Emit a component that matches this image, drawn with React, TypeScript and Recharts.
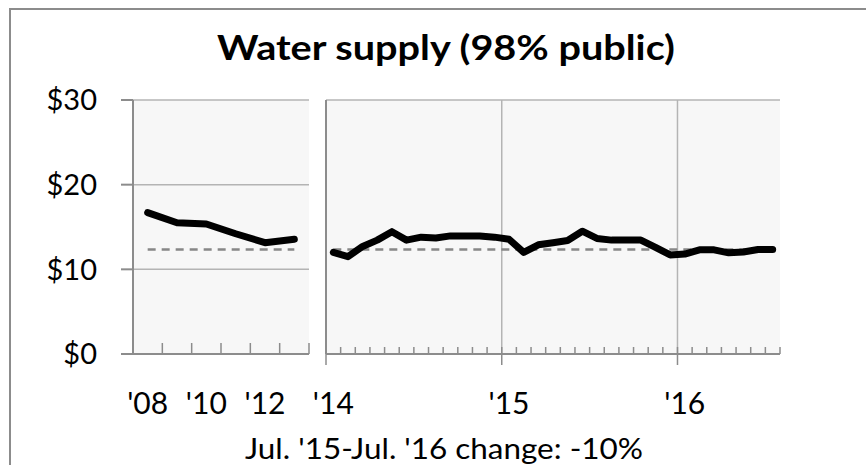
import React from 'react';
import { ComposedChart, Line, XAxis, YAxis, CartesianGrid, ReferenceLine } from 'recharts';

const FONT = 'Lato, "Open Sans", sans-serif';
const AXIS = '#8c8c8c';
const GRID = '#b4b4b4';
const PLOT_BG = '#f7f7f7';
const DASH = '#878787';

// annual panel
const YEARS = ["'08", "'09", "'10", "'11", "'12", "'13"];
const ANNUAL_VALUES = [16.7, 15.5, 15.35, 14.2, 13.15, 13.55];
const ANNUAL_LABELS = ["'08", "'10", "'12"];

// monthly panel, Jan '14 - Jul '16
const MONTHS = [
  "Jan '14", "Feb '14", "Mar '14", "Apr '14", "May '14", "Jun '14", "Jul '14", "Aug '14", "Sep '14", "Oct '14", "Nov '14", "Dec '14",
  "Jan '15", "Feb '15", "Mar '15", "Apr '15", "May '15", "Jun '15", "Jul '15", "Aug '15", "Sep '15", "Oct '15", "Nov '15", "Dec '15",
  "Jan '16", "Feb '16", "Mar '16", "Apr '16", "May '16", "Jun '16", "Jul '16",
];
const MONTHLY_VALUES = [
  12.0, 11.5, 12.7, 13.45, 14.45, 13.45, 13.8, 13.7, 13.95, 13.95, 13.95, 13.8,
  13.55, 12.0, 12.9, 13.15, 13.4, 14.5, 13.65, 13.45, 13.45, 13.45, 12.6, 11.7,
  11.8, 12.3, 12.3, 11.95, 12.05, 12.35, 12.35,
];
const YEAR_STARTS = ["Jan '14", "Jan '15", "Jan '16"];
const MONTH_LABELS: Record<string, string> = { "Jan '14": "'14", "Jan '15": "'15", "Jan '16": "'16" };

const Y_TICKS = [0, 10, 20, 30];

const annualData = YEARS.map((name, i) => ({ name, value: ANNUAL_VALUES[i] }));
const monthlyData = MONTHS.map((name, i) => ({ name, value: MONTHLY_VALUES[i] }));
const latest = MONTHLY_VALUES[MONTHLY_VALUES.length - 1];

const AnnualTick = (props: any) => {
  const { x, y, payload, index } = props;
  const half = payload.offset ?? 0;
  return (
    <g>
      <line x1={x - half} x2={x - half} y1={y} y2={y - 11} stroke={AXIS} strokeWidth={1.5} />
      {index === YEARS.length - 1 && (
        <line x1={x + half} x2={x + half} y1={y} y2={y - 11} stroke={AXIS} strokeWidth={1.5} />
      )}
      {ANNUAL_LABELS.includes(payload.value) && (
        <text x={x} y={y + 60} textAnchor="middle" fontSize={30} fontFamily={FONT} fill="#000">
          {payload.value}
        </text>
      )}
    </g>
  );
};

const MonthlyTick = (props: any) => {
  const { x, y, payload, index } = props;
  const half = payload.offset ?? 0;
  const yearStart = YEAR_STARTS.includes(payload.value);
  return (
    <g>
      <line x1={x - half} x2={x - half} y1={yearStart ? y + 11 : y} y2={y - 7} stroke={AXIS} strokeWidth={1.5} />
      {index === MONTHS.length - 1 && (
        <line x1={x + half} x2={x + half} y1={y} y2={y - 7} stroke={AXIS} strokeWidth={1.5} />
      )}
      {MONTH_LABELS[payload.value] && (
        <text x={x} y={y + 60} textAnchor="middle" fontSize={30} fontFamily={FONT} fill="#000">
          {MONTH_LABELS[payload.value]}
        </text>
      )}
    </g>
  );
};

export default function App() {
  return (
    <div style={{ position: 'absolute', left: 0, top: 0, width: 866, height: 465, overflow: 'hidden', background: '#fff', fontFamily: FONT }}>
      <div style={{ position: 'absolute', left: 9, top: 8, width: 900, height: 500, border: `2px solid ${AXIS}` }} />
      <svg width={866} height={465} style={{ position: 'absolute', left: 0, top: 0 }}>
        <text x={446} y={60} textAnchor="middle" fontSize={35} fontWeight={700} fontFamily={FONT} fill="#000"
          textLength={458} lengthAdjust="spacingAndGlyphs">
          Water supply (98% public)
        </text>
        <text x={444} y={459} textAnchor="middle" fontSize={29} fontFamily={FONT} fill="#000"
          textLength={398} lengthAdjust="spacingAndGlyphs">
          Jul. '15-Jul. '16 change: -10%
        </text>
      </svg>

      <div style={{ position: 'absolute', left: 0, top: 0 }}>
        <ComposedChart width={330} height={465} data={annualData} margin={{ top: 100, right: 21, bottom: 51, left: 10 }}>
          <CartesianGrid vertical={false} stroke={GRID} strokeWidth={1.5} fill={PLOT_BG} />
          <YAxis
            type="number"
            domain={[0, 30]}
            ticks={Y_TICKS}
            interval={0}
            width={123}
            tickSize={12}
            tickMargin={24}
            tickFormatter={(v) => `$${v}`}
            axisLine={{ stroke: AXIS, strokeWidth: 2 }}
            tickLine={{ stroke: AXIS, strokeWidth: 2 }}
            tick={{ fill: '#000', fontSize: 29, fontFamily: FONT }}
          />
          <XAxis
            dataKey="name"
            scale="band"
            interval={0}
            height={60}
            tickSize={0}
            tickMargin={0}
            tickLine={false}
            axisLine={{ stroke: AXIS, strokeWidth: 2 }}
            tick={AnnualTick}
          />
          <ReferenceLine
            segment={[{ x: YEARS[0], y: latest }, { x: YEARS[YEARS.length - 1], y: latest }]}
            stroke={DASH}
            strokeWidth={2.5}
            strokeDasharray="8 6"
          />
          <Line dataKey="value" stroke="#000" strokeWidth={7} dot={false} strokeLinecap="round" strokeLinejoin="round" isAnimationActive={false} />
        </ComposedChart>
      </div>

      <div style={{ position: 'absolute', left: 300, top: 0 }}>
        <ComposedChart width={500} height={465} data={monthlyData} margin={{ top: 100, right: 20, bottom: 51, left: 25 }}>
          <CartesianGrid vertical={false} stroke={GRID} strokeWidth={1.5} fill={PLOT_BG} />
          <YAxis type="number" domain={[0, 30]} ticks={Y_TICKS} width={1} tick={false} tickLine={false} axisLine={{ stroke: AXIS, strokeWidth: 2 }} />
          <XAxis
            dataKey="name"
            scale="band"
            interval={0}
            height={60}
            tickSize={0}
            tickMargin={0}
            tickLine={false}
            axisLine={{ stroke: AXIS, strokeWidth: 2 }}
            tick={MonthlyTick}
          />
          {YEAR_STARTS.slice(1).map((m) => (
            <ReferenceLine key={m} x={m} position="start" stroke={GRID} strokeWidth={1.5} />
          ))}
          <ReferenceLine
            segment={[{ x: MONTHS[0], y: latest }, { x: MONTHS[MONTHS.length - 1], y: latest }]}
            stroke={DASH}
            strokeWidth={2.5}
            strokeDasharray="8 6"
          />
          <Line dataKey="value" stroke="#000" strokeWidth={7} dot={false} strokeLinecap="round" strokeLinejoin="round" isAnimationActive={false} />
        </ComposedChart>
      </div>
    </div>
  );
}
